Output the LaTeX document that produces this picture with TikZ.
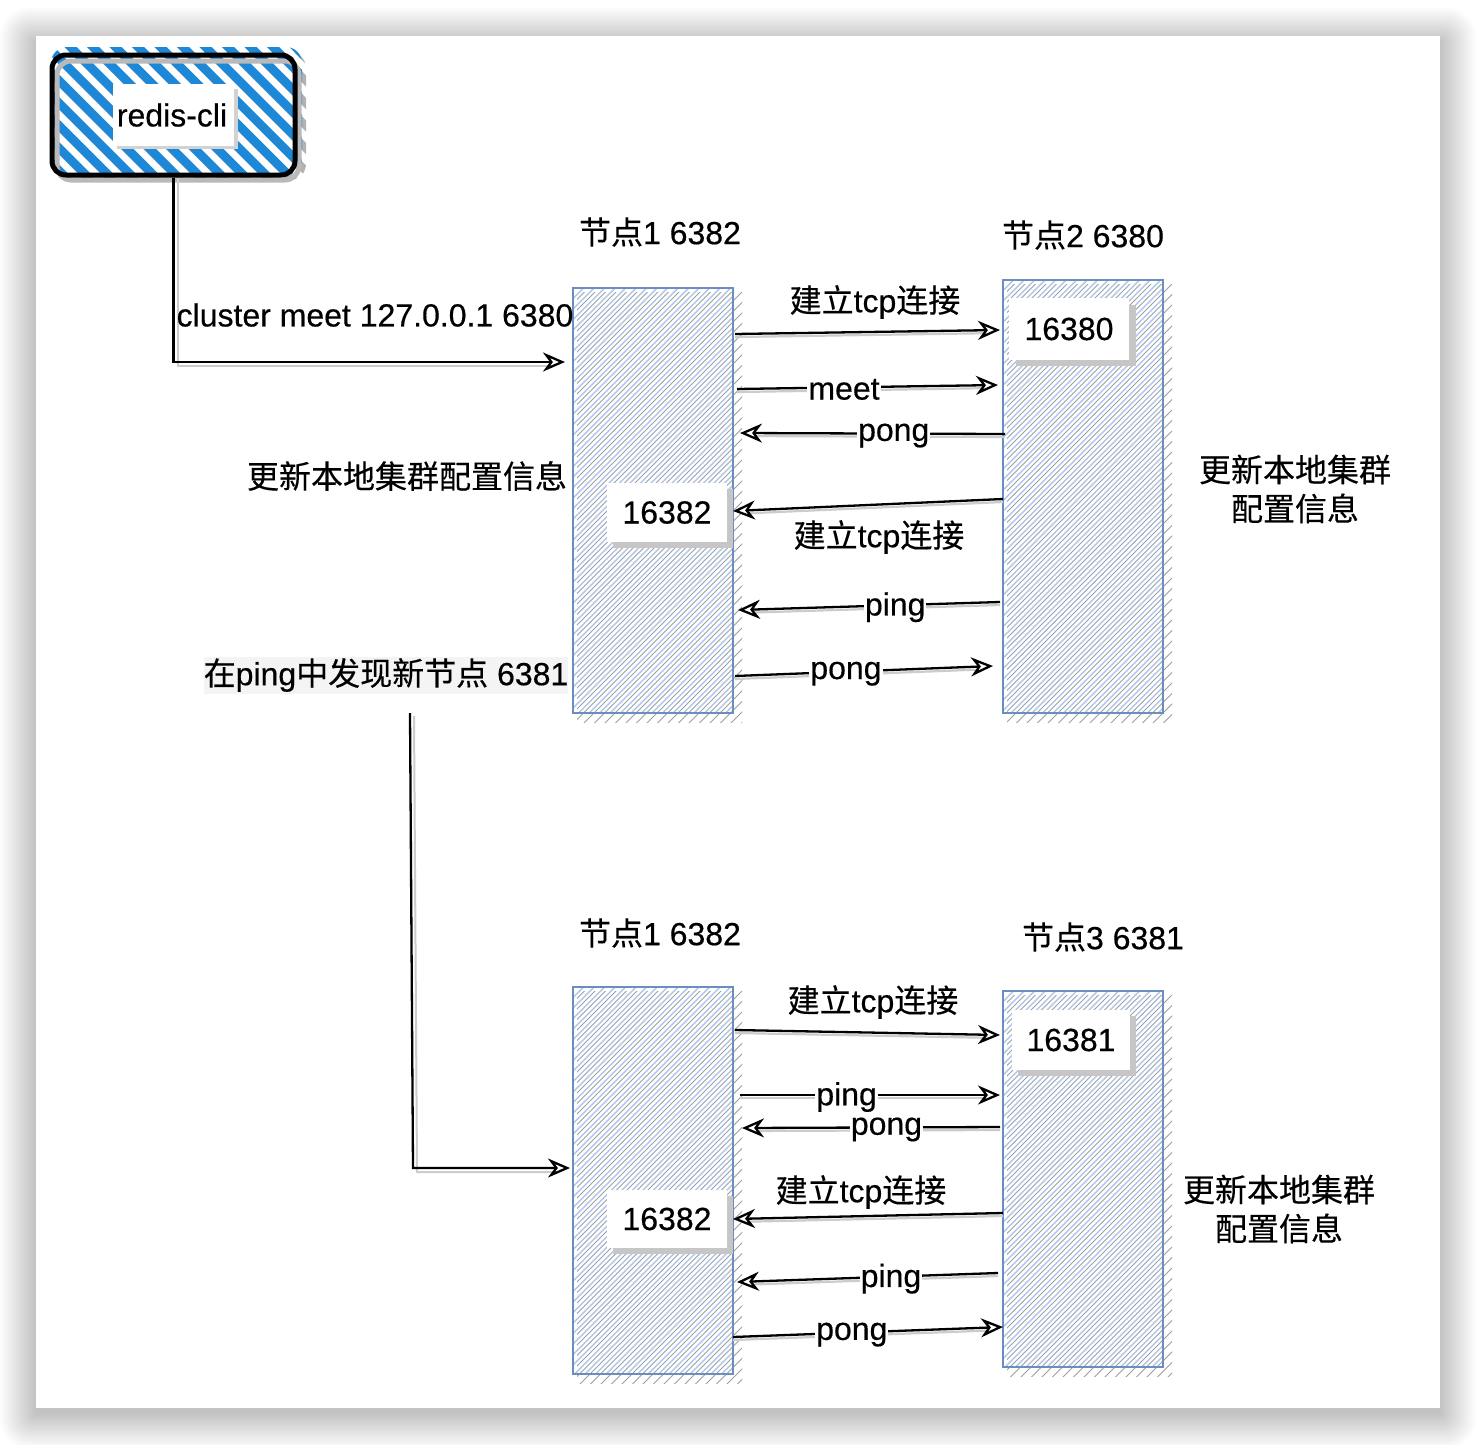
\documentclass[tikz,border=0pt]{standalone}
\usepackage{fontspec}
\setmainfont{Liberation Sans}[FakeBold=0.4]
\newfontfamily\cjk{Noto Sans CJK SC}[FakeBold=0.3]
\usetikzlibrary{arrows.meta}
\newcommand\zh[1]{{\cjk #1}}
\definecolor{nodeblue}{HTML}{6C8EBF}
\definecolor{hatchblue}{HTML}{AFC7EC}
\definecolor{clib}{HTML}{1E88D8}
\definecolor{lblbg}{HTML}{F4F4F4}

% hatched fill of a rectangle x1 y1 x2 y2
\newcommand\hatch[4]{%
  \pgfmathsetmacro\ha{#1-(#4-#2)-30}%
  \pgfmathsetmacro\hb{\ha+10.5}%
  \pgfmathsetmacro\hh{#4-#2+60}%
  \begin{scope}
    \clip (#1+4,#2+4) rectangle (#3+9,#4+9);
    \foreach \t in {\ha,\hb,...,#3}{\draw[gray!75,line width=0.8pt] (\t+5,#4+30) -- ++(\hh,-\hh);}
  \end{scope}
  \begin{scope}
    \clip (#1,#2) rectangle (#3,#4);
    \foreach \t in {\ha,\hb,...,#3}{\draw[hatchblue,line width=1.4pt] (\t,#4+30) -- ++(\hh,-\hh);}
  \end{scope}}

% connector with label on it: start, end, label, pos
\newcommand\conn[4]{%
  \draw[connshadow] ([yshift=-3pt]#1) -- ([yshift=-3pt]#2);
  \draw[conn] (#1) -- (#2) node[elab,pos=#4] {#3};}
\newcommand\connplain[2]{%
  \draw[connshadow] ([yshift=-3pt]#1) -- ([yshift=-3pt]#2);
  \draw[conn] (#1) -- (#2);}

\begin{document}
\begin{tikzpicture}[x=1pt,y=-1pt,
  font=\fontsize{32}{39}\selectfont,
  txt/.style={inner sep=0pt},
  conn/.style={line width=2.3pt,-{Stealth[open,length=22pt,width=19pt,inset=7pt]}},
  connshadow/.style={line width=2.2pt,draw=gray!40,shorten >=14pt},
  elab/.style={fill=white,inner sep=1pt,yshift=-2pt},
  nodebox/.style={draw=nodeblue,line width=2pt,minimum width=160pt,inner sep=0pt},
  portbox/.style={fill=white,minimum width=120pt,minimum height=60pt,inner sep=0pt},
  portshadow/.style={fill=gray!45}]
\useasboundingbox (0,0) rectangle (1476,1444);

% card with soft shadow
\foreach \i in {1,...,30}{
  \fill[black,opacity=0.007,rounded corners=\i pt] (36-1.2*\i,36-1.2*\i+7) rectangle (1440+1.2*\i,1408+1.2*\i+5);
}
\fill[white] (36,36) rectangle (1440,1408);

% ---------- redis-cli ----------
\begin{scope}
  \clip[rounded corners=16pt] (55,52) rectangle (306,180);
  \foreach \t in {-140,-117.5,...,320}{\draw[gray!60,line width=8pt,line cap=round] (\t,40) -- ++(160,160);}
\end{scope}
\begin{scope}
  \clip[rounded corners=16pt] (51,47) rectangle (302,175);
  \foreach \t in {-143,-120.5,...,317}{\draw[clib,line width=8.5pt,line cap=round] (\t,36) -- ++(160,160);}
\end{scope}
\draw[gray!55,line width=5pt,rounded corners=14pt] (57,61) rectangle (299,180);
\node[draw=black,line width=5pt,rounded corners=14pt,minimum width=243pt,minimum height=120pt] (cli) at (173.5,115) {};
\fill[gray!35] (117,89) rectangle (238,149);
\node[fill=white,minimum width=121pt,minimum height=62pt,inner sep=0pt] (clilbl) at (173.5,115) {};
\node[txt] (clitext) at (172,115) {redis-cli};

% ---------- top section ----------
\hatch{573}{288}{733}{713}
\hatch{1003}{280}{1163}{713}
\node[nodebox,minimum height=425pt] (n1) at (653,500.5) {};
\node[nodebox,minimum height=433pt] (n2) at (1083,496.5) {};

\node[txt] (t1) at (660,232) {\zh{节点}1 6382};
\node[txt] (t2) at (1083,235) {\zh{节点}2 6380};

\fill[portshadow] (1016,305) rectangle (1136,366);
\node[portbox,minimum height=62pt] (p1) at (1069,329) {16380};
\fill[portshadow] (613,489) rectangle (733,548);
\node[portbox,minimum height=59pt] (p2) at (667,512.5) {16382};

% cluster meet elbow
\coordinate (m1) at (565,362);
\draw[gray!40,line width=2pt] (178,178) |- (550,366);
\draw[conn] (cli.south) |- (m1);
\node[txt] (cm) at (375,315) {cluster meet 127.0.0.1 6380};

\coordinate (a1) at (735,334); \coordinate (b1) at (1000,330);
\coordinate (a2) at (737,389); \coordinate (b2) at (998,385);
\coordinate (a3) at (1005,434); \coordinate (b3) at (740,433);
\coordinate (a4) at (1003,499); \coordinate (b4) at (733,511);
\coordinate (a5) at (1000,602); \coordinate (b5) at (738,610);
\coordinate (a6) at (735,676); \coordinate (b6) at (993,666);
\connplain{a1}{b1}
\node[txt] (l1) at (875,302) {\zh{建立}tcp\zh{连接}};
\conn{a2}{b2}{meet}{0.41}
\conn{a3}{b3}{pong}{0.42}
\connplain{a4}{b4}
\node[txt] (l4) at (879,537) {\zh{建立}tcp\zh{连接}};
\conn{a5}{b5}{ping}{0.40}
\conn{a6}{b6}{pong}{0.43}

\node[txt] (u1) at (407,476) {\zh{更新本地集群配置信息}};
\node[txt,align=center] (u2) at (1295,489) {\zh{更新本地集群}\\\zh{配置信息}};

\node[fill=lblbg,inner sep=0pt,minimum height=37pt] (found) at (386,675) {\zh{在}ping\zh{中发现新节点} 6381};

% elbow to bottom
\coordinate (f1) at (410,713);
\coordinate (f2) at (413,1168);
\coordinate (f3) at (570,1168);
\draw[gray!40,line width=2pt] (414,716) -- (417,1172) -- (556,1172);
\draw[conn] (f1) -- (f2) -- (f3);

% ---------- bottom section ----------
\hatch{573}{987}{733}{1374}
\hatch{1003}{991}{1163}{1367}
\node[nodebox,minimum height=387pt] (n3) at (653,1180.5) {};
\node[nodebox,minimum height=376pt] (n4) at (1083,1179) {};

\node[txt] (t3) at (660,933) {\zh{节点}1 6382};
\node[txt] (t4) at (1103,937) {\zh{节点}3 6381};

\fill[portshadow] (1018,1016) rectangle (1136,1076);
\node[portbox,minimum width=118pt] (p3) at (1071,1040) {16381};
\fill[portshadow] (613,1196) rectangle (733,1254);
\node[portbox,minimum height=58pt] (p4) at (667,1219) {16382};

\coordinate (c1) at (735,1030); \coordinate (d1) at (1000,1035);
\coordinate (c2) at (740,1095); \coordinate (d2) at (1000,1095);
\coordinate (c3) at (1000,1127); \coordinate (d3) at (742,1128);
\coordinate (c4) at (1003,1213); \coordinate (d4) at (733,1219);
\coordinate (c5) at (998,1273); \coordinate (d5) at (737,1282);
\coordinate (c6) at (733,1337); \coordinate (d6) at (1003,1327);
\connplain{c1}{d1}
\node[txt] (k1) at (873,1002) {\zh{建立}tcp\zh{连接}};
\conn{c2}{d2}{ping}{0.41}
\conn{c3}{d3}{pong}{0.44}
\connplain{c4}{d4}
\node[txt] (k4) at (861,1192) {\zh{建立}tcp\zh{连接}};
\conn{c5}{d5}{ping}{0.41}
\conn{c6}{d6}{pong}{0.44}

\node[txt,align=center] (u3) at (1279,1209) {\zh{更新本地集群}\\\zh{配置信息}};
\end{tikzpicture}
\end{document}
